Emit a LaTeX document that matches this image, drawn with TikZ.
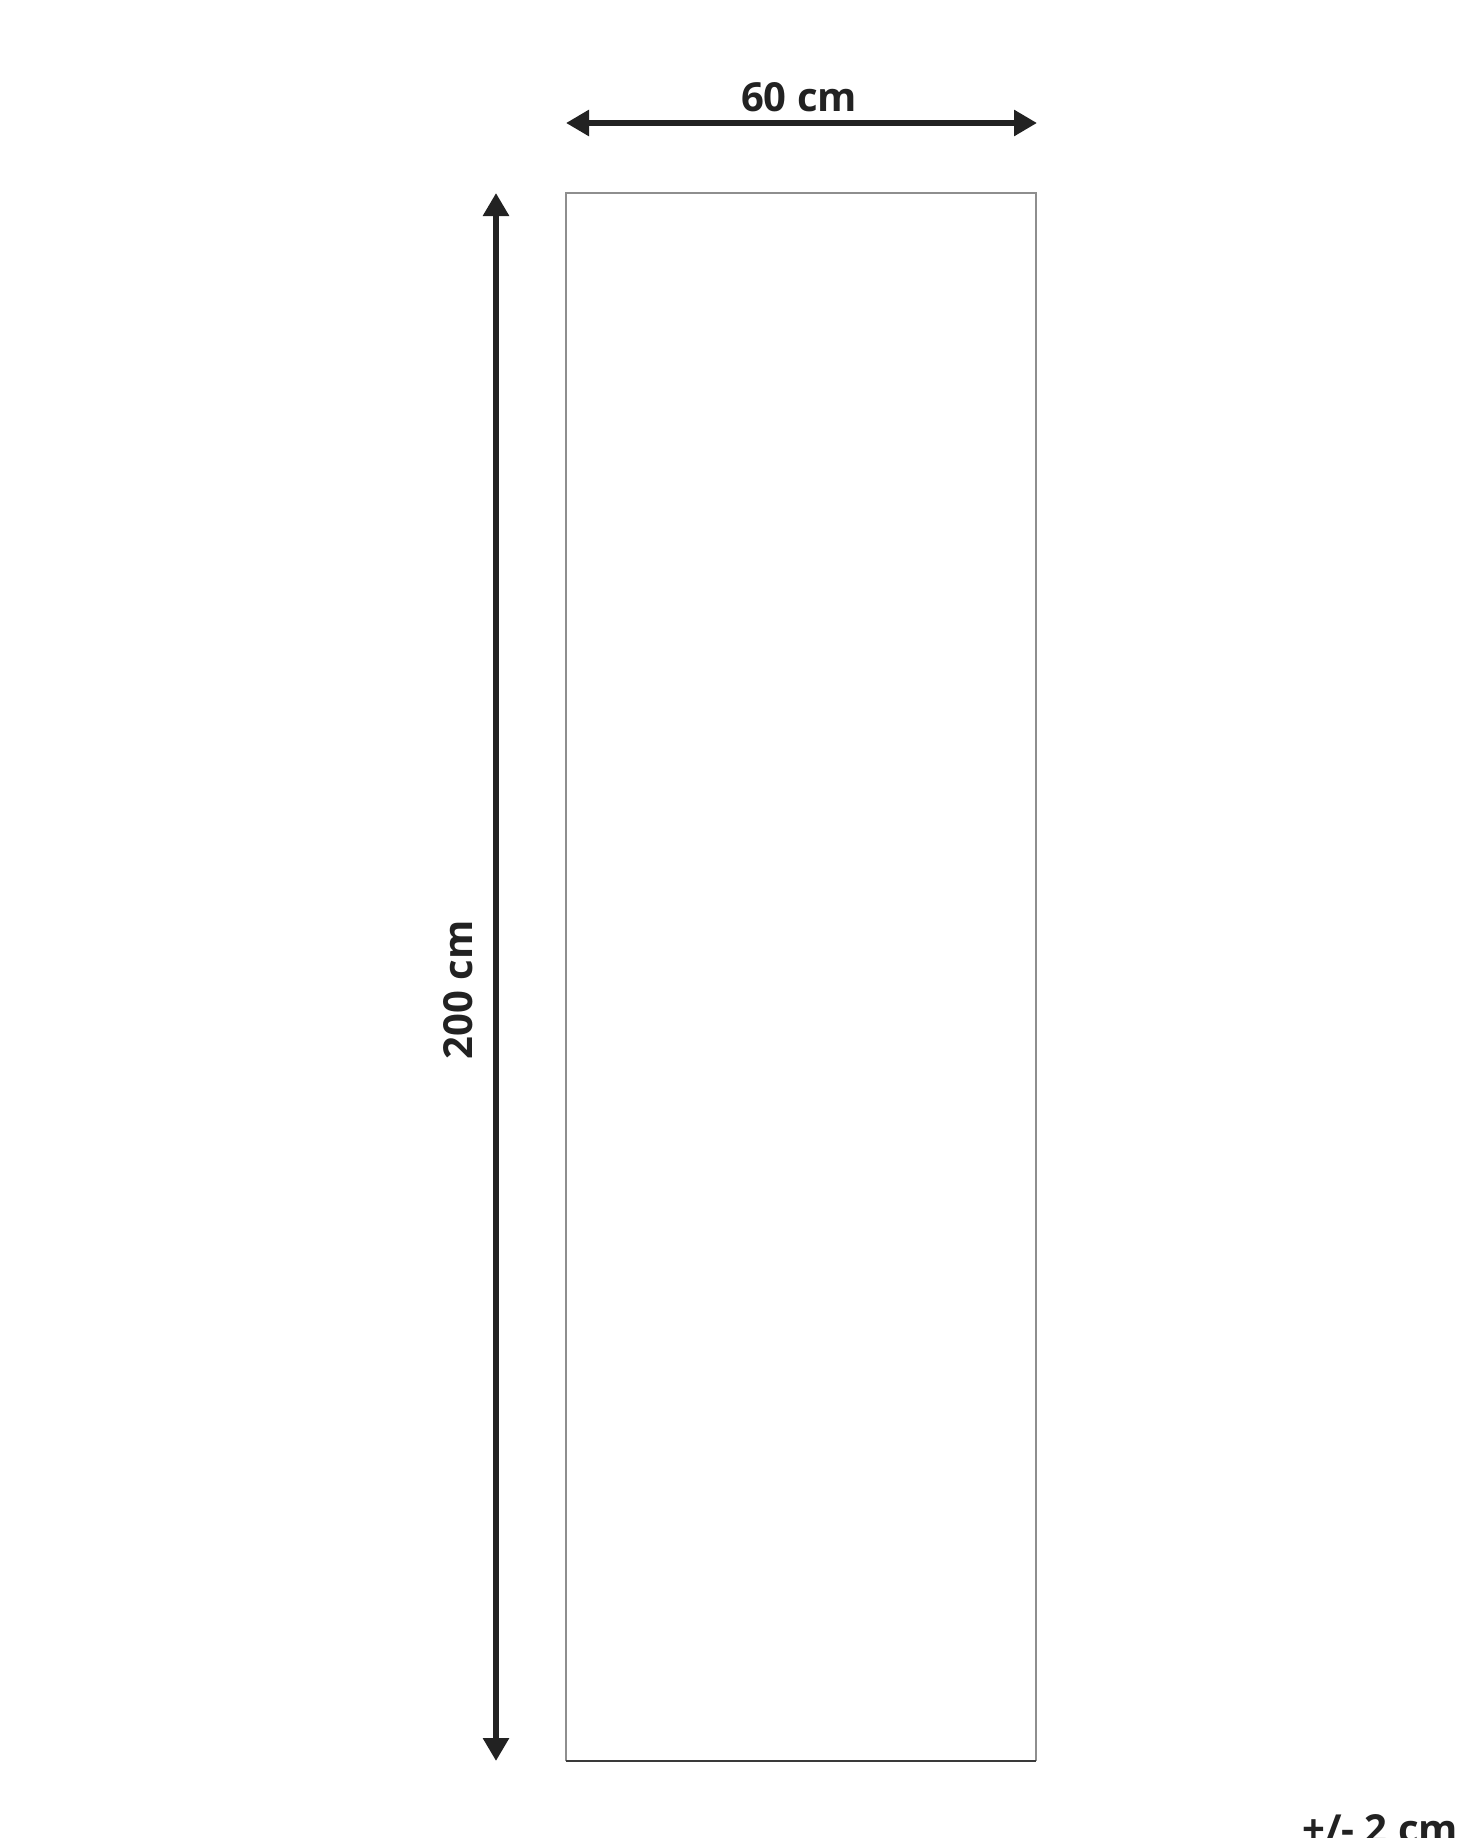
\documentclass[tikz,border=0pt]{standalone}
\usepackage{fontspec}
\setmainfont{Open Sans}
\usetikzlibrary{arrows.meta}
\definecolor{dimcol}{HTML}{222222}
\definecolor{rectcol}{HTML}{8E8E8E}
\definecolor{rectbot}{HTML}{3A3A3A}
\tikzset{
  dimarrow/.style={draw=dimcol, line width=5.8pt, {Triangle[length=23pt,width=25pt]}-{Triangle[length=23pt,width=25pt]}},
  dimlabel/.style={inner sep=0pt, text=dimcol, font=\fontsize{40}{42}\selectfont\bfseries},
  rug/.style={draw=rectcol, line width=2.5pt},
  rugbottom/.style={draw=rectbot, line width=2.5pt}
}
\begin{document}
\begin{tikzpicture}[x=1pt,y=-1pt]
\useasboundingbox (0,0) rectangle (1470,1838);
\clip (0,0) rectangle (1470,1838);
% rug outline
\coordinate (tl) at (566,193);
\coordinate (tr) at (1036,193);
\coordinate (bl) at (566,1761);
\coordinate (br) at (1036,1761);
\draw[rug] (bl) -- (tl) -- (tr) -- (br);
\draw[rugbottom] (bl) -- (br);
% width dimension
\coordinate (wl) at (566,123);
\coordinate (wr) at (1037,123);
\draw[dimarrow] (wl) -- (wr);
\node[dimlabel, anchor=base] (wlab) at (799,112) {60 cm};
% length dimension
\coordinate (lt) at (496,193);
\coordinate (lb) at (496,1761);
\draw[dimarrow] (lt) -- (lb);
\node[dimlabel, anchor=base, rotate=90] (llab) at (472,990) {200 cm};
% tolerance
\node[dimlabel, anchor=base west] (tol) at (1302,1843) {+/- 2 cm};
\end{tikzpicture}
\end{document}
